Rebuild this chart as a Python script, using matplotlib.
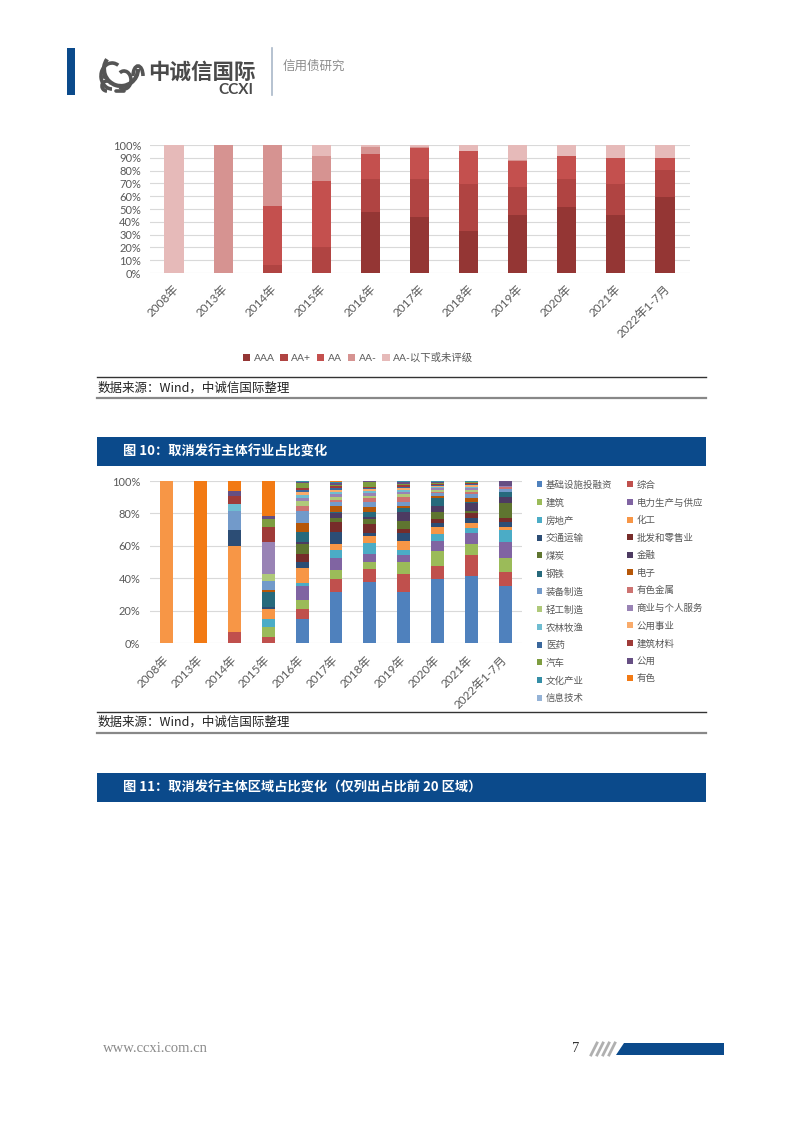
import matplotlib
matplotlib.use("Agg")
import matplotlib.pyplot as plt
import matplotlib.patches as mpatches
import matplotlib.transforms as mtransforms
from matplotlib.ticker import FuncFormatter, MultipleLocator
import numpy as np

plt.rcParams['font.family'] = ['Lato', 'Noto Sans CJK SC', 'DejaVu Sans']

# ---------------- data: chart 1 (rating mix) ----------------
years = ['2008年', '2013年', '2014年', '2015年', '2016年', '2017年', '2018年',
         '2019年', '2020年', '2021年', '2022年1-7月']
rating_names = ['AAA', 'AA+', 'AA', 'AA-', 'AA-以下或未评级']
AAA = [0, 0, 0, 0, 47.5, 43.4, 33.2, 45.7, 51.2, 45.7, 59.7]
AA_plus = [0, 0, 6, 20, 25.7, 29.8, 36.4, 21.3, 22.6, 23.9, 20.6]
AA = [0, 0, 46.7, 52.2, 20, 24.2, 25.4, 20.3, 17.4, 20, 9.3]
AA_minus = [0, 100, 47.3, 19.5, 5.2, 1.0, 0, 0.7, 0, 0, 0]
below_AA_minus = [100, 0, 0, 8.3, 1.6, 1.6, 5, 12, 8.8, 10.4, 10.4]
rating_colors = ['#943634', '#B04442', '#C4504E', '#D69391', '#E6BAB9']

# ---------------- data: chart 2 (industry mix) ----------------
industries = ['基础设施投融资', '综合', '建筑', '电力生产与供应', '房地产', '化工',
              '交通运输', '批发和零售业', '煤炭', '金融', '钢铁', '电子',
              '装备制造', '有色金属', '轻工制造', '商业与个人服务', '农林牧渔',
              '公用事业', '医药', '建筑材料', '汽车', '公用', '文化产业', '有色',
              '信息技术']
#                2008 2013 2014  2015  2016  2017  2018  2019  2020  2021  2022
infra_finance = [0,   0,   0,    0,    15,   31.5, 37.7, 31.5, 39.2, 41.2, 35]
composite     = [0,   0,   7,    3.7,  6.2,  8.3,  7.7,  10.8, 8.2,  13.0, 8.9]
construction  = [0,   0,   0,    6.2,  5.2,  5.1,  4.7,  7.4,  9.3,  6.8,  8.3]
power         = [0,   0,   0,    0,    8.6,  7.3,  4.7,  4.5,  6.4,  7.0,  9.9]
real_estate   = [0,   0,   0,    4.7,  2.3,  5.1,  7.1,  3.5,  4.1,  2.7,  7.6]
chemicals     = [100, 0,   53,   6.6,  8.7,  3.7,  4.1,  5.4,  4.1,  3.5,  1.6]
transport     = [0,   0,   9.5,  1.1,  4.1,  7.7,  1.6,  4.5,  2.9,  3.1,  3.5]
wholesale     = [0,   0,   0,    0,    4.7,  6.1,  5.8,  2.7,  2.3,  2.7,  2.5]
coal          = [0,   0,   0,    0,    6.2,  2.5,  2.9,  5.2,  4.5,  1.6,  8.9]
finance       = [0,   0,   0,    0,    1.5,  2.7,  1.6,  5.5,  3.7,  5.0,  4.1]
steel         = [0,   0,   0,    9.2,  6.2,  1.0,  3.1,  2.1,  5.0,  0.5,  3.1]
electronics   = [0,   0,   0,    1.5,  5.1,  3.5,  3.1,  1.4,  1.0,  2.6,  0]
machinery     = [0,   0,   12,   5.1,  7.8,  2.3,  2.7,  2.7,  1.7,  2.0,  1.5]
nonferrous_m  = [0,   0,   0,    0,    2.9,  1.4,  2.5,  3.1,  1.0,  1.6,  1.6]
light_mfg     = [0,   0,   0,    4.2,  3.1,  2.1,  1.4,  1.5,  1.0,  1.0,  0]
services      = [0,   0,   0,    20.2, 1.7,  1.5,  1.7,  1.6,  1.2,  1.5,  0.5]
agriculture   = [0,   0,   4,    0,    2.0,  1.6,  1.6,  1.3,  0.8,  0.8,  0]
utilities     = [0,   0,   0,    0,    2.1,  1.0,  1.0,  1.0,  0.8,  1.0,  0]
pharma        = [0,   0,   0,    0,    1.0,  1.0,  0.8,  0.9,  0.6,  0.8,  0]
building_mat  = [0,   0,   5.3,  9.3,  1.5,  1.5,  0.6,  0.8,  0.5,  0.6,  0]
autos         = [0,   0,   0,    4.5,  3.0,  0.8,  3.0,  0.8,  0.5,  0.3,  0]
public        = [0,   0,   3,    2.3,  0.6,  1.2,  0.6,  1.2,  0.6,  0.3,  3.0]
culture       = [0,   0,   0,    0,    0.5,  0.5,  0,    0.5,  0.3,  0.4,  0]
nonferrous    = [0,   100, 6.2,  21.4, 0,    0.4,  0,    0,    0.3,  0,    0]
info_tech     = [0,   0,   0,    0,    0,    0.2,  0,    0.1,  0,    0,    0]
industry_colors = ['#4F81BD', '#C0504D', '#9BBB59', '#8064A2', '#4BACC6', '#F79646',
                   '#2C4D75', '#772C2A', '#5F7530', '#4D3B62', '#276A7C', '#B65708',
                   '#729ACA', '#CD7371', '#AFC97A', '#9983B5', '#6FBDD1', '#F9AB6B',
                   '#3A679C', '#9F3B38', '#7E9D40', '#664F83', '#358EA6', '#F27A14',
                   '#95B3D7']

W, H = 802, 1133
fig = plt.figure(figsize=(W / 100, H / 100), dpi=100)
fig.patch.set_facecolor('white')


def fx(x):
    return x / W


def fy(y):
    return 1 - y / H


def add_axes_px(left, top, right, bottom):
    return fig.add_axes([fx(left), fy(bottom), (right - left) / W, (bottom - top) / H])


# overlay for page decorations
deco = fig.add_axes([0, 0, 1, 1])
deco.set_xlim(0, W)
deco.set_ylim(H, 0)
deco.axis('off')
deco.set_zorder(-1)

BLUE = '#0B4A8B'
CJK = ['Noto Sans CJK SC', 'DejaVu Sans']
LOGO = '#555555'

# header
deco.add_patch(mpatches.Rectangle((67, 48), 8, 47, color=BLUE, lw=0))
# simple elephant-like logo
deco.add_patch(mpatches.Arc((121, 69), 34, 34, theta1=0, theta2=215, lw=3, color=LOGO))
deco.add_patch(mpatches.Arc((112, 76), 22, 26, theta1=90, theta2=300, lw=2.6, color=LOGO))
deco.add_patch(mpatches.Arc((124, 80), 14, 18, theta1=-120, theta2=120, lw=2.6, color=LOGO))
deco.add_patch(mpatches.Arc((138, 76), 10, 20, theta1=180, theta2=360, lw=2.6, color=LOGO))
deco.add_patch(mpatches.Arc((107, 86), 10, 10, theta1=90, theta2=330, lw=2.6, color=LOGO))
deco.plot([116, 124], [91, 91], color=LOGO, lw=2.6, solid_capstyle='round')
deco.plot([104], [76], marker='o', ms=2.5, color=LOGO)
deco.text(148, 72, '中诚信国际', fontsize=15.5, fontweight='bold', color='#4A4A4A',
          family=CJK, va='center', ha='left')
deco.text(253, 90, 'CCXI', fontsize=11, fontweight='bold', color='#4A4A4A',
          va='center', ha='right')
deco.plot([272, 272], [48, 95], color='#A9B8C8', lw=1.2)
deco.text(283, 66, '信用债研究', fontsize=9, color='#8C8C8C', family=CJK, va='center', ha='left')

# chart 1 source lines
deco.plot([97, 706], [377, 377], color='#333333', lw=1.0)
deco.text(98, 388, '数据来源：Wind，中诚信国际整理', fontsize=9, color='#222222',
          family=CJK, va='center', ha='left')
deco.plot([97, 706], [398, 398], color='#888888', lw=1.6)

# title bar 10
deco.add_patch(mpatches.Rectangle((97, 437), 609, 29, color=BLUE, lw=0))
deco.text(123, 451.5, '图 10：取消发行主体行业占比变化', fontsize=9.5, fontweight='bold',
          color='white', family=CJK, va='center', ha='left')

# chart 2 source lines
deco.plot([97, 706], [712, 712], color='#333333', lw=1.0)
deco.text(98, 722, '数据来源：Wind，中诚信国际整理', fontsize=9, color='#222222',
          family=CJK, va='center', ha='left')
deco.plot([97, 706], [733, 733], color='#888888', lw=1.6)

# title bar 11
deco.add_patch(mpatches.Rectangle((97, 773), 609, 29, color=BLUE, lw=0))
deco.text(123, 787.5, '图 11：取消发行主体区域占比变化（仅列出占比前 20 区域）', fontsize=9.5,
          fontweight='bold', color='white', family=CJK, va='center', ha='left')

# footer
deco.text(103, 1049, 'www.ccxi.com.cn', fontsize=10.5, color='#8A8A8A',
          family=['Liberation Serif'], va='center', ha='left')
deco.text(572, 1049, '7', fontsize=10.5, color='#333333', family=['Liberation Serif'],
          va='center', ha='left')
for i in range(4):
    x0 = 591 + i * 6
    deco.plot([x0, x0 + 6], [1055, 1043], color='#B0B0B0', lw=2)
deco.add_patch(mpatches.Polygon([(616, 1055), (624, 1043), (724, 1043), (724, 1055)],
                                closed=True, color=BLUE, lw=0))


def style_axes(ax, ypad):
    for s in ax.spines.values():
        s.set_visible(False)
    ax.set_ylim(0, 100)
    ax.yaxis.set_major_formatter(FuncFormatter(lambda v, p: f'{int(round(v))}%'))
    ax.tick_params(axis='both', length=0, colors='#595959', labelsize=8)
    ax.tick_params(axis='y', pad=ypad)
    ax.grid(axis='y', color='#D9D9D9', lw=0.8)
    ax.set_axisbelow(True)


def rotate_labels(ax, dx_px, dy_px):
    offset = mtransforms.ScaledTranslation(dx_px / 100, dy_px / 100, fig.dpi_scale_trans)
    for lab in ax.get_xticklabels():
        lab.set_rotation(45)
        lab.set_ha('right')
        lab.set_va('center')
        lab.set_rotation_mode('anchor')
        lab.set_transform(lab.get_transform() + offset)
        lab.set_fontsize(8.5)
        lab.set_color('#595959')


# ---------------- chart 1 ----------------
ax1 = add_axes_px(149.5, 145, 689.5, 273)
x = np.arange(len(years))
bottom = np.zeros(len(years))
series1 = [AAA, AA_plus, AA, AA_minus, below_AA_minus]
handles1 = []
for vals, col, name in zip(series1, rating_colors, rating_names):
    b = ax1.bar(x, vals, width=0.39, bottom=bottom, color=col, label=name, lw=0)
    handles1.append(b)
    bottom += np.array(vals)
ax1.set_xlim(-0.5, len(years) - 0.5)
style_axes(ax1, 6)
ax1.yaxis.set_major_locator(MultipleLocator(10))
ax1.set_xticks(x)
ax1.set_xticklabels(years)
ax1.tick_params(axis='x', pad=0)
rotate_labels(ax1, 3, -14)
fig.legend(handles=handles1, labels=rating_names, loc='center',
           bbox_to_anchor=(fx(358), fy(358)), ncol=5, frameon=False,
           prop={'size': 7.5}, handlelength=0.7, handleheight=0.7, handletextpad=0.35,
           columnspacing=0.55, labelcolor='#595959')

# ---------------- chart 2 ----------------
ax2 = add_axes_px(150, 481, 522, 643)
series2 = [infra_finance, composite, construction, power, real_estate, chemicals,
           transport, wholesale, coal, finance, steel, electronics, machinery,
           nonferrous_m, light_mfg, services, agriculture, utilities, pharma,
           building_mat, autos, public, culture, nonferrous, info_tech]
bottom = np.zeros(len(years))
handles2 = []
for vals, col, name in zip(series2, industry_colors, industries):
    b = ax2.bar(x, vals, width=0.38, bottom=bottom, color=col, label=name, lw=0)
    handles2.append(b)
    bottom += np.array(vals)
ax2.set_xlim(-0.5, len(years) - 0.5)
style_axes(ax2, 7)
ax2.yaxis.set_major_locator(MultipleLocator(20))
ax2.set_xticks(x)
ax2.set_xticklabels(years)
ax2.tick_params(axis='x', pad=0)
rotate_labels(ax2, 0, -15)

order = list(range(0, len(industries), 2)) + list(range(1, len(industries), 2))
fig.legend(handles=[handles2[i] for i in order], labels=[industries[i] for i in order],
           loc='upper left', bbox_to_anchor=(fx(529), fy(473)), ncol=2, frameon=False,
           prop={'family': CJK, 'size': 6.8}, handlelength=0.6, handleheight=0.6,
           handletextpad=0.4, columnspacing=1.56, labelspacing=0.9, labelcolor='#595959',
           borderpad=0.3)

fig.savefig('out.png', dpi=100, facecolor='white')
